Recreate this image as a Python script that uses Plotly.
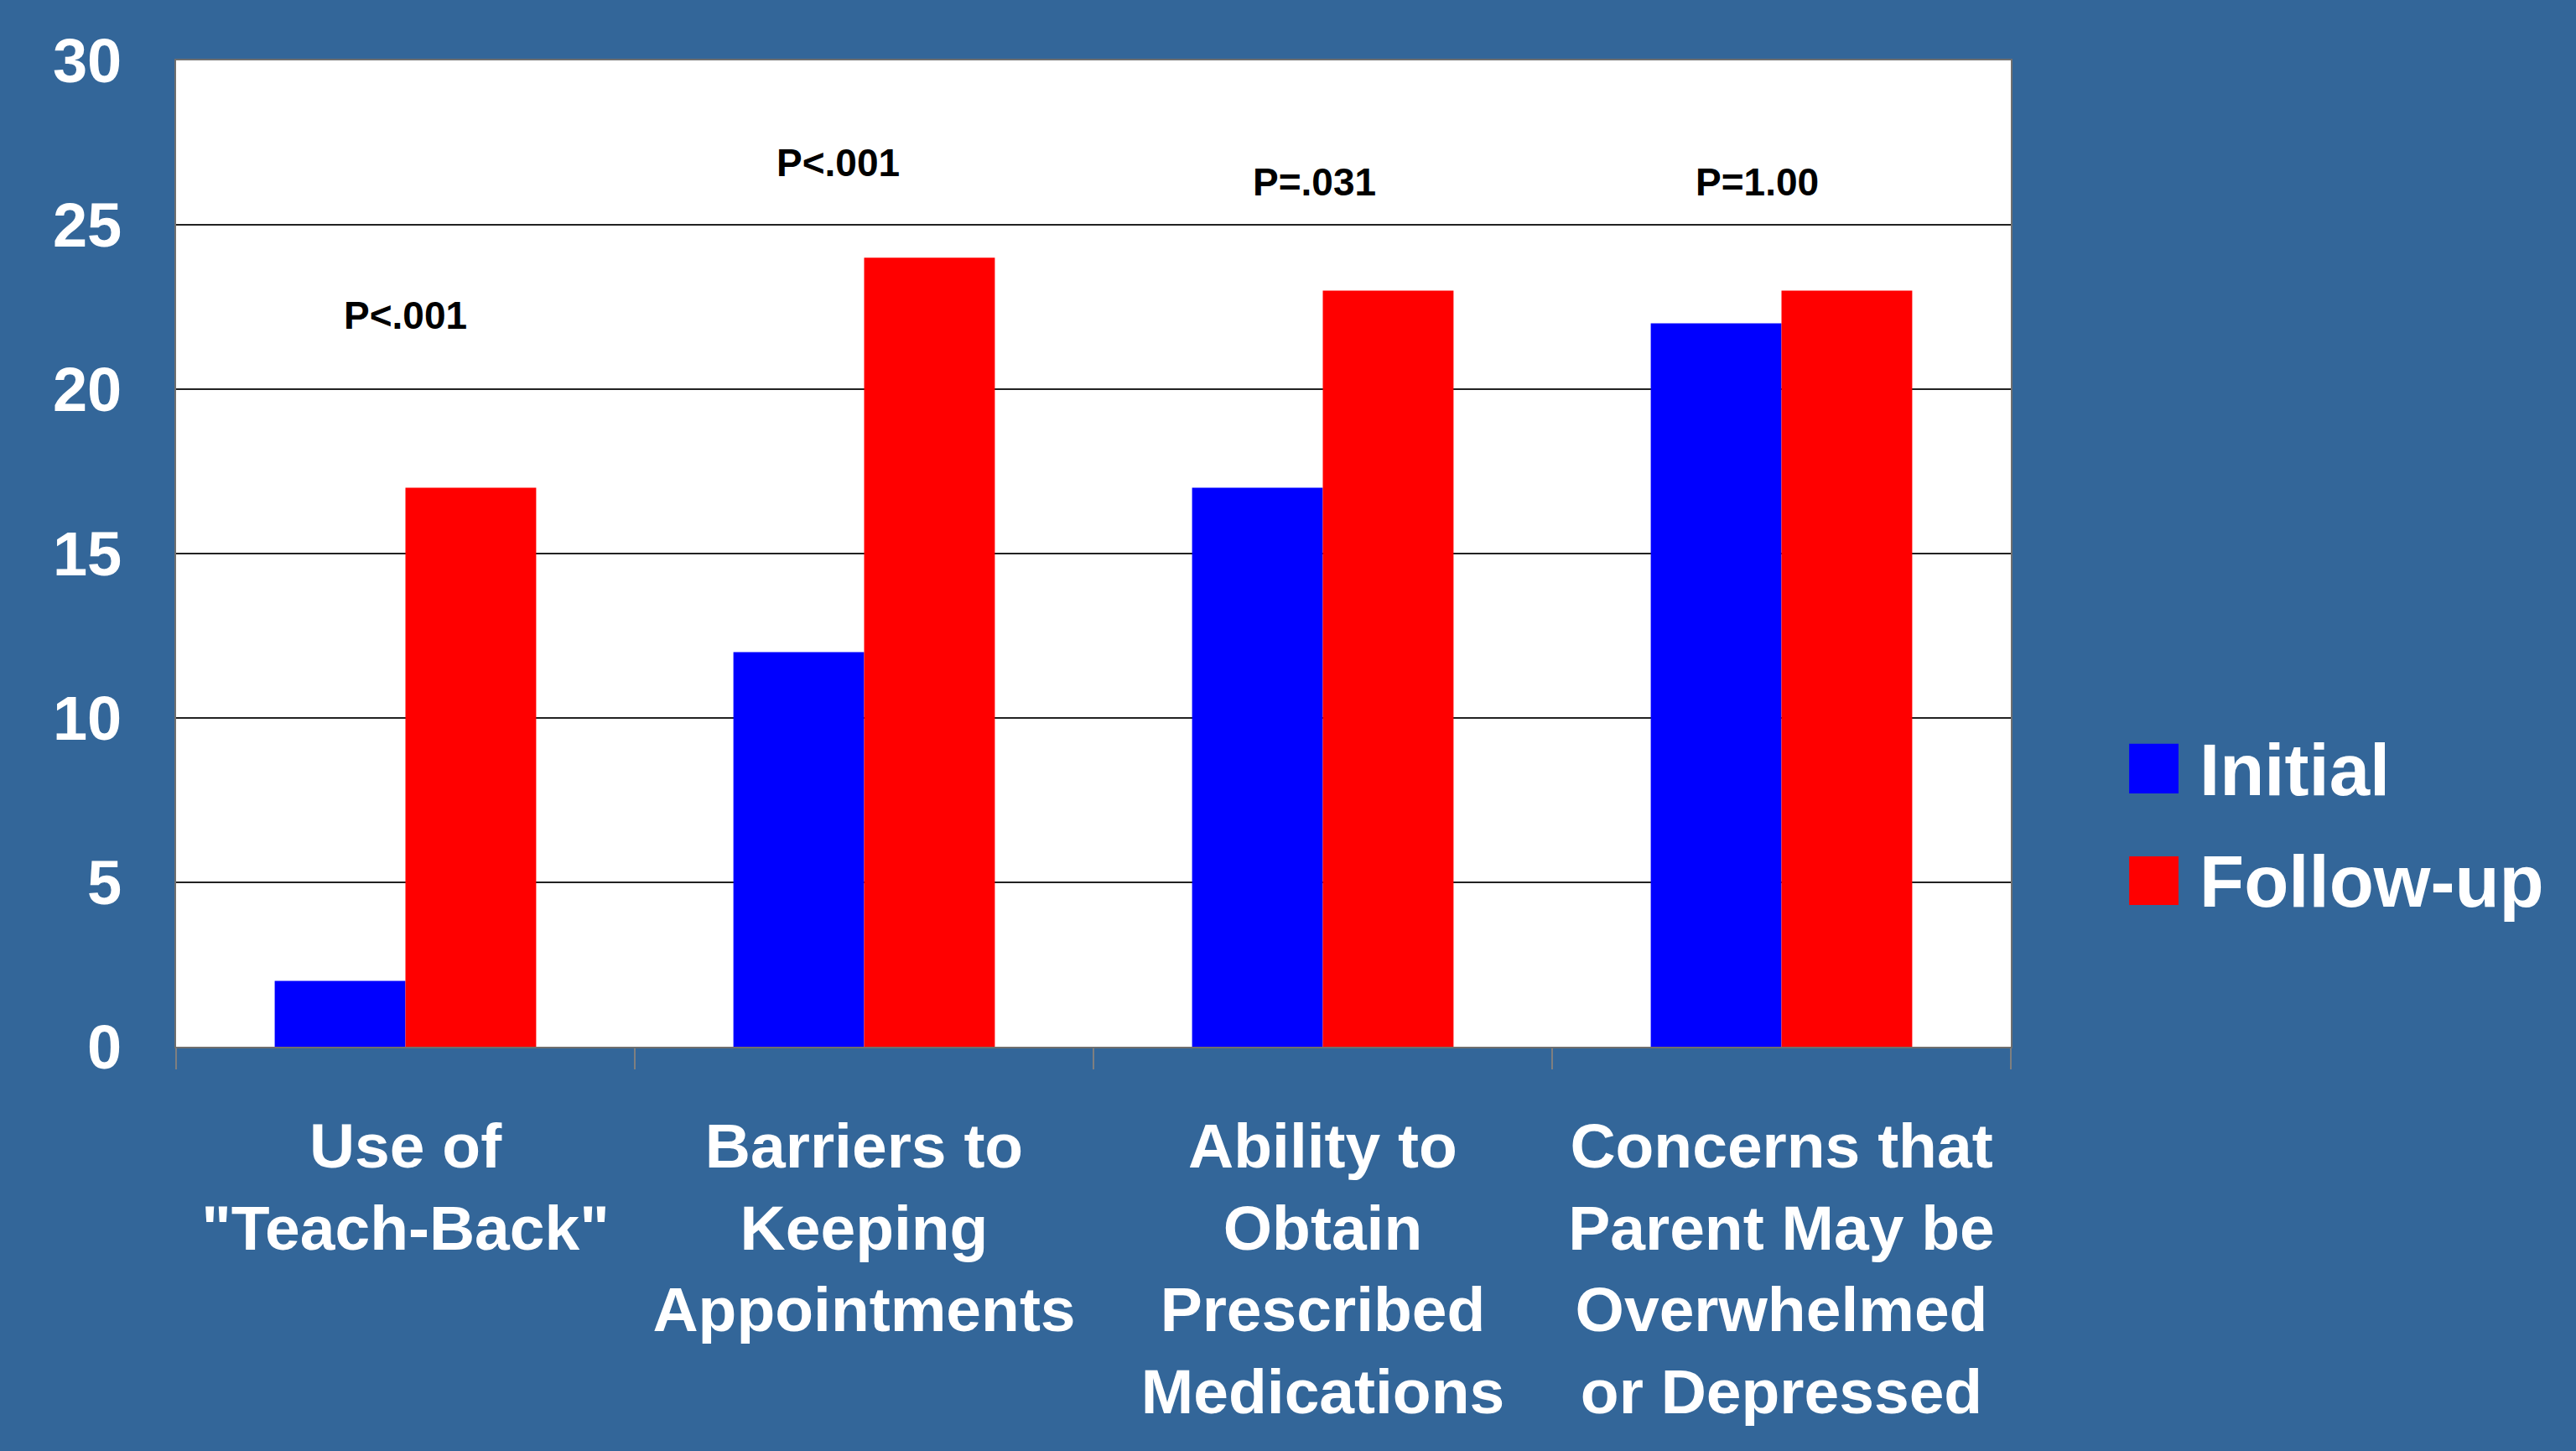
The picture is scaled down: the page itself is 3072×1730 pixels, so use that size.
import plotly.graph_objects as go

categories = ['Use of<br>"Teach-Back"', 'Barriers to<br>Keeping<br>Appointments',
              'Ability to<br>Obtain<br>Prescribed<br>Medications',
              'Concerns that<br>Parent May be<br>Overwhelmed<br>or Depressed']
initial = [2, 12, 17, 22]
follow_up = [17, 24, 23, 23]
p_labels = ["P<.001", "P<.001", "P=.031", "P=1.00"]
y_ticks = [0, 5, 10, 15, 20, 25, 30]

BG = "#336699"
FONT = "Liberation Sans, Arial, sans-serif"

fig = go.Figure()
fig.add_trace(go.Bar(x=categories, y=initial, name="Initial", marker_color="#0000FF",
                     marker_line_width=0, showlegend=False))
fig.add_trace(go.Bar(x=categories, y=follow_up, name="Follow-up", marker_color="#FF0000",
                     marker_line_width=0, showlegend=False))

# p-value annotations (positions in layout terms)
p_y = [22.25, 26.9, 26.3, 26.3]
p_shift = [0, -31, -10, -29]
for i, t in enumerate(p_labels):
    fig.add_annotation(x=categories[i], y=p_y[i], text=t, showarrow=False, xshift=p_shift[i],
                       font=dict(family=FONT, size=46, color="black", weight="bold"),
                       xanchor="center", yanchor="middle")

# manual legend with large squares
legend_items = [("Initial", "#0000FF", 0.2569, 0.3071), ("Follow-up", "#FF0000", 0.1438, 0.1931)]
for name, col, y0, y1 in legend_items:
    fig.add_shape(type="rect", xref="paper", yref="paper", x0=1.0645, x1=1.0914, y0=y0, y1=y1,
                  fillcolor=col, line_width=0)
    fig.add_annotation(xref="paper", yref="paper", x=1.1019, y=(y0 + y1) / 2 - 0.0006, text=name,
                       showarrow=False, xanchor="left", yanchor="middle",
                       font=dict(family=FONT, size=87, color="white", weight="bold"))

fig.update_layout(
    width=3072, height=1730,
    paper_bgcolor=BG, plot_bgcolor="white",
    margin=dict(l=210, r=674, t=72, b=482),
    barmode="group", bargap=0.43, bargroupgap=0,
    font=dict(family=FONT, color="white"),
)
fig.update_xaxes(
    type="category", showgrid=False, tickson="boundaries", ticks="outside", ticklen=25,
    tickwidth=2, tickcolor="#7f7f7f", showline=True, linecolor="#6f6f6f", linewidth=2,
    mirror=True, ticklabelstandoff=52,
    tickfont=dict(family=FONT, size=75, color="white", weight="bold"),
)
fig.update_yaxes(
    range=[0, 30], tickvals=y_ticks, showgrid=True, gridcolor="#222222", gridwidth=2,
    showline=True, linecolor="#6f6f6f", linewidth=2, mirror=True, ticks="",
    zeroline=False, ticklabelstandoff=48,
    tickfont=dict(family=FONT, size=74, color="white", weight="bold"),
)

fig.write_html(
    "out.html",
    config={"displayModeBar": False},
    post_script="document.body.style.margin='0';document.body.style.background='#336699';"
                "document.documentElement.style.background='#336699';",
)
